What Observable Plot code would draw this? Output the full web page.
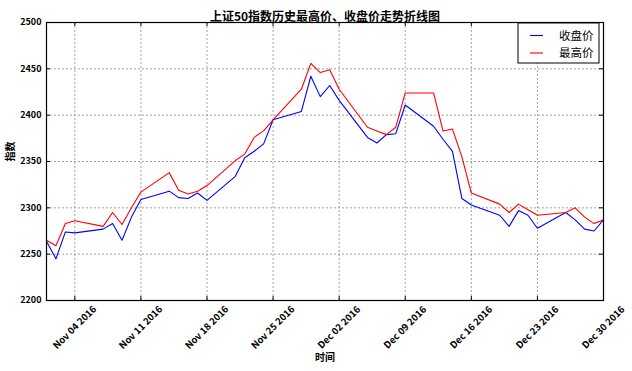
<!DOCTYPE html>
<html><head><meta charset="utf-8">
<script src="https://cdn.jsdelivr.net/npm/d3@7"></script>
<script src="https://cdn.jsdelivr.net/npm/@observablehq/plot@0.6"></script>
<style>
html,body{margin:0;padding:0;background:#fff;}
#chart svg{display:block;}
</style></head><body><div id="chart"></div>
<script>
const titleText = "上证50指数历史最高价、收盘价走势折线图";
const xLabel = "时间";
const yLabel = "指数";
const dates = [
  "2016-11-01","2016-11-02","2016-11-03","2016-11-04","2016-11-07","2016-11-08","2016-11-09","2016-11-10","2016-11-11",
  "2016-11-14","2016-11-15","2016-11-16","2016-11-17","2016-11-18","2016-11-21","2016-11-22","2016-11-23","2016-11-24","2016-11-25",
  "2016-11-28","2016-11-29","2016-11-30","2016-12-01","2016-12-02","2016-12-05","2016-12-06","2016-12-07","2016-12-08","2016-12-09",
  "2016-12-12","2016-12-13","2016-12-14","2016-12-15","2016-12-16","2016-12-19","2016-12-20","2016-12-21","2016-12-22","2016-12-23",
  "2016-12-26","2016-12-27","2016-12-28","2016-12-29","2016-12-30"
];
const closePrice = [
  2264,2245,2274,2273,2277,2283,2265,2290,2309,
  2318,2311,2310,2316,2308,2334,2354,2361,2369,2395,
  2404,2442,2420,2432,2416,2376,2370,2379,2380,2411,
  2388,2374,2361,2310,2303,2292,2280,2297,2292,2278,
  2295,2287,2277,2275,2287
];
const highPrice = [
  2265,2259,2283,2286,2280,2295,2282,2300,2317,
  2338,2319,2315,2318,2324,2351,2358,2376,2383,2395,
  2428,2456,2446,2449,2428,2387,2383,2379,2387,2424,
  2424,2383,2385,2355,2316,2304,2295,2304,2298,2292,
  2295,2300,2290,2283,2287
];
const seriesNames = ["收盘价","最高价"];
const seriesColors = ["#0000ff","#ff0000"];
const yTicks = [2200,2250,2300,2350,2400,2450,2500];
const xTickDates = ["2016-11-04","2016-11-11","2016-11-18","2016-11-25","2016-12-02","2016-12-09","2016-12-16","2016-12-23","2016-12-30"];

const parse = d3.utcParse("%Y-%m-%d");
const fmt = d3.utcFormat("%b %d %Y");
const rows = dates.flatMap((d,i)=>[
  {date: parse(d), value: closePrice[i], series: seriesNames[0]},
  {date: parse(d), value: highPrice[i], series: seriesNames[1]}
]);
const xt = xTickDates.map(parse);

const W=632, H=371, mL=46, mR=29, mT=22, mB=71;
const innerW = W-mL-mR, innerH = H-mT-mB;
const FONT = "'Noto Sans CJK SC', 'DejaVu Sans', sans-serif";

const chart = Plot.plot({
  width: W, height: H,
  marginLeft: mL, marginRight: mR, marginTop: mT, marginBottom: mB,
  style: {fontFamily: FONT, fontSize: "9px", background: "white", color: "black"},
  x: {type: "utc", domain: [parse(dates[0]), parse(dates[dates.length-1])], axis: null},
  y: {domain: [2200, 2500], axis: null},
  color: {domain: seriesNames, range: seriesColors},
  marks: [
    Plot.gridX(xt, {stroke: "#8a8a8a", strokeOpacity: 1, strokeDasharray: "2,2", strokeWidth: 0.8}),
    Plot.gridY(yTicks, {stroke: "#8a8a8a", strokeOpacity: 1, strokeDasharray: "2,2", strokeWidth: 0.8}),
    Plot.line(rows, {x: "date", y: "value", stroke: "series", z: "series", strokeWidth: 1.1}),
    Plot.ruleX(xt, {x: d=>d, insetTop: innerH-4, stroke: "black"}),
    Plot.ruleX(xt, {x: d=>d, insetBottom: innerH-4, stroke: "black"}),
    Plot.ruleY(yTicks, {y: d=>d, insetRight: innerW-4, stroke: "black"}),
    Plot.ruleY(yTicks, {y: d=>d, insetLeft: innerW-4, stroke: "black"}),
    Plot.frame({stroke: "black", strokeWidth: 1.2}),
    Plot.text(yTicks, {y: d=>d, text: d=>String(d), frameAnchor: "left", dx: -5, textAnchor: "end", fontWeight: "bold", fontSize: 9}),
    Plot.text(xt, {x: d=>d, text: d=>fmt(d), frameAnchor: "bottom", dy: 27, rotate: -45, textAnchor: "middle", lineAnchor: "middle", fontWeight: "bold", fontSize: 9.5}),
    Plot.text([titleText], {text: d=>d, frameAnchor: "top", dy: -10, fontWeight: "bold", fontSize: 12}),
    Plot.text([xLabel], {text: d=>d, frameAnchor: "bottom", dy: 60, fontWeight: "bold", fontSize: 10}),
    Plot.text([yLabel], {text: d=>d, frameAnchor: "left", dx: -36, rotate: -90, fontWeight: "bold", fontSize: 10})
  ]
});
document.getElementById("chart").appendChild(chart);

// legend
const svg = d3.select(chart);
const lx = mL + innerW - 85, ly = mT + 1;
const g = svg.append("g").attr("font-family", FONT).attr("text-anchor", "start");
g.append("rect").attr("x", lx).attr("y", ly).attr("width", 81).attr("height", 40)
  .attr("fill", "white").attr("stroke", "black").attr("stroke-width", 1);
seriesNames.forEach((name, i) => {
  const yy = ly + 12.5 + i*17.5;
  g.append("line").attr("x1", lx+12).attr("x2", lx+25).attr("y1", yy).attr("y2", yy)
    .attr("stroke", seriesColors[i]).attr("stroke-width", 1.1);
  g.append("text").attr("x", lx+41).attr("y", yy).attr("dy", "0.35em")
    .attr("text-anchor", "start").attr("font-size", 11.5).text(name);
});
</script>
</body></html>
